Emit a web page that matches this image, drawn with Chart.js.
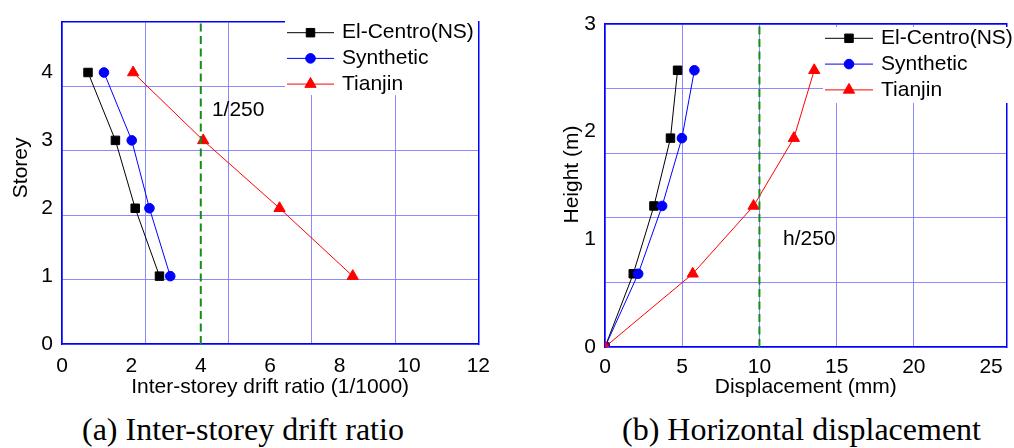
<!DOCTYPE html>
<html>
<head>
<meta charset="utf-8">
<script src="https://cdn.jsdelivr.net/npm/chart.js@4/dist/chart.umd.min.js"></script>
<style>
  body { margin: 0; background: #fff; }
  #wrap { position: relative; width: 1014px; height: 448px; overflow: hidden; }
  canvas { position: absolute; top: 0; }
  #driftChart { left: 0; }
  #dispChart { left: 500px; }
  .caption { position: absolute; top: 411px; font: 32px "Liberation Serif", "Times New Roman", serif; line-height: 36px; color: #000; white-space: nowrap; }
</style>
</head>
<body>
<div id="wrap">
  <canvas id="driftChart" width="500" height="400"></canvas>
  <canvas id="dispChart" width="514" height="400"></canvas>
  <div class="caption" style="left:82px">(a) Inter-storey drift ratio</div>
  <div class="caption" style="left:622px">(b) Horizontal displacement</div>
</div>
<script>
// (a) inter-storey drift ratio, 1/1000
const storeys = [1, 2, 3, 4];
const elCentroDrift = [2.81, 2.11, 1.54, 0.75];
const syntheticDrift = [3.12, 2.52, 2.01, 1.21];
const tianjinDrift = [8.38, 6.27, 4.07, 2.05];
const driftLimit = 4;

// (b) horizontal displacement, mm
const heights = [0, 0.68, 1.31, 1.94, 2.57];
const elCentroDisp = [0, 1.83, 3.17, 4.24, 4.70];
const syntheticDisp = [0, 2.15, 3.70, 4.98, 5.79];
const tianjinDisp = [0, 5.68, 9.62, 12.23, 13.55];
const dispLimit = 10;

const FONT = '"Liberation Sans", Arial, sans-serif';
const BLUE = "#0000ff";
const GRID = "rgba(110,110,255,0.8)";

function xy(xs, ys) {
    return xs.map((x, i) => ({ x: x, y: ys[i] }));
}

function series(label, color, style, radius, xs, ys, order) {
    return {
        label: label,
        data: xy(xs, ys),
        showLine: true,
        borderColor: color,
        backgroundColor: color,
        borderWidth: 1,
        pointStyle: style,
        pointRadius: radius,
        pointBorderWidth: 1,
        order: order
    };
}

function limitLine(x, yMax) {
    return {
        label: "limit",
        data: [{ x: x, y: 0 }, { x: x, y: yMax }],
        showLine: true,
        borderColor: "#178a17",
        borderWidth: 2,
        borderDash: [8, 4.5],
        pointRadius: 0,
        order: -1
    };
}

// legend drawn inside the plot, on a white box
const insideLegend = {
    id: "insideLegend",
    afterDatasetsDraw(chart, args, opts) {
        const ctx = chart.ctx;
        const items = chart.data.datasets.filter(d => d.pointStyle);
        ctx.save();
        ctx.fillStyle = "#fff";
        ctx.fillRect(opts.box[0], opts.box[1], opts.box[2] - opts.box[0], opts.box[3] - opts.box[1]);
        items.forEach((d, i) => {
            const y = opts.top + i * opts.rowGap;
            ctx.strokeStyle = d.borderColor;
            ctx.lineWidth = 1;
            ctx.beginPath();
            ctx.moveTo(opts.lineX, y);
            ctx.lineTo(opts.lineX + opts.lineLen, y);
            ctx.stroke();
            ctx.fillStyle = d.backgroundColor;
            Chart.helpers.drawPoint(ctx, { pointStyle: d.pointStyle, radius: d.pointRadius, borderWidth: 1, rotation: 0 },
                opts.lineX + opts.lineLen / 2, y);
            ctx.fillStyle = "#000";
            ctx.font = "21px " + FONT;
            ctx.textBaseline = "middle";
            ctx.textAlign = "left";
            ctx.fillText(d.label, opts.lineX + opts.lineLen + 8, y);
        });
        ctx.restore();
    }
};

// text beside the limit line, placed in data units
const limitText = {
    id: "limitText",
    afterDatasetsDraw(chart, args, opts) {
        const ctx = chart.ctx;
        ctx.save();
        ctx.fillStyle = "#000";
        ctx.font = "21px " + FONT;
        ctx.textBaseline = "middle";
        ctx.textAlign = "left";
        ctx.fillText(opts.text, chart.scales.x.getPixelForValue(opts.x), chart.scales.y.getPixelForValue(opts.y));
        ctx.restore();
    }
};

// y title sits a little above the middle of the plot in the original
const yTitle = {
    id: "yTitle",
    afterDraw(chart, args, opts) {
        const ctx = chart.ctx;
        const area = chart.chartArea;
        ctx.save();
        ctx.translate(opts.x, (area.top + area.bottom) / 2 + opts.dy);
        ctx.rotate(-Math.PI / 2);
        ctx.fillStyle = "#000";
        ctx.font = "21px " + FONT;
        ctx.textBaseline = "middle";
        ctx.textAlign = "center";
        ctx.fillText(opts.text, 0, 0);
        ctx.restore();
    }
};

function axes(o) {
    return {
        x: {
            type: "linear", position: "bottom", min: 0, max: o.xMax,
            ticks: { stepSize: o.xStep, includeBounds: false, color: "#000", font: { family: FONT, size: 21 }, padding: o.xPad, maxRotation: 0 },
            grid: { display: false, drawTicks: false },
            border: { display: true, color: BLUE, width: 1.5 },
            title: { display: true, text: o.xTitle, color: "#000", font: { family: FONT, size: 21 }, padding: { top: 1, bottom: 0 } },
            afterFit: s => { s.height = o.xHeight; }
        },
        y: {
            type: "linear", position: "left", min: 0, max: o.yMax,
            ticks: { stepSize: 1, includeBounds: false, color: "#000", font: { family: FONT, size: 21 }, padding: 9 },
            grid: { display: false, drawTicks: false },
            border: { display: true, color: BLUE, width: 1.5 },
            afterFit: s => { s.width = o.yWidth; }
        },
        // grid-only axes: the grid of the original figure is not on the tick values
        x2: {
            type: "linear", position: "top", min: 0, max: o.xMax,
            ticks: { display: false, stepSize: o.xGrid },
            grid: { color: GRID, lineWidth: 1, drawTicks: false },
            border: { display: true, color: BLUE, width: 1.5 },
            afterFit: s => { s.height = 0; }
        },
        y2: {
            type: "linear", position: "right", min: 0, max: o.yMax,
            ticks: { display: false, stepSize: o.yGrid },
            grid: { color: GRID, lineWidth: 1, drawTicks: false },
            border: { display: true, color: BLUE, width: 1.5 },
            afterFit: s => { s.width = 0; }
        }
    };
}

new Chart(document.getElementById("driftChart"), {
    type: "scatter",
    data: {
        datasets: [
            series("El-Centro(NS)", "#000000", "rect", 6, elCentroDrift, storeys, 2),
            series("Synthetic", BLUE, "circle", 4.8, syntheticDrift, storeys, 1),
            series("Tianjin", "#ff0000", "triangle", 6.5, tianjinDrift, storeys, 0),
            limitLine(driftLimit, 4.75)
        ]
    },
    options: {
        responsive: false, animation: false, events: [],
        layout: { padding: { left: 0, top: 13, right: 20, bottom: 0 } },
        scales: axes({ xMax: 12, xStep: 2, xGrid: 2.4, xPad: 10, xHeight: 56, xTitle: "Inter-storey drift ratio (1/1000)",
            yMax: 4.75, yGrid: 0.95, yWidth: 62 }),
        plugins: {
            legend: { display: false }, tooltip: { enabled: false },
            insideLegend: { box: [285, 17, 478, 95], lineX: 287, lineLen: 47, top: 32.7, rowGap: 25.7 },
            limitText: { text: "1/250", x: 4.32, y: 3.45 },
            yTitle: { text: "Storey", x: 21, dy: -15 }
        }
    },
    plugins: [insideLegend, limitText, yTitle]
});

new Chart(document.getElementById("dispChart"), {
    type: "scatter",
    data: {
        datasets: [
            series("El-Centro(NS)", "#000000", "rect", 6, elCentroDisp, heights, 2),
            series("Synthetic", BLUE, "circle", 4.8, syntheticDisp, heights, 1),
            series("Tianjin", "#ff0000", "triangle", 6.5, tianjinDisp, heights, 0),
            limitLine(dispLimit, 3)
        ]
    },
    options: {
        responsive: false, animation: false, events: [],
        layout: { padding: { left: 0, top: 24, right: 2, bottom: 0 } },
        scales: axes({ xMax: 26, xStep: 5, xGrid: 5, xPad: 8, xHeight: 53, xTitle: "Displacement (mm)",
            yMax: 3, yGrid: 0.6, yWidth: 105 }),
        plugins: {
            legend: { display: false }, tooltip: { enabled: false },
            insideLegend: { box: [323, 27, 511, 103], lineX: 325, lineLen: 48, top: 38.3, rowGap: 25.8 },
            limitText: { text: "h/250", x: 11.53, y: 1.0 },
            yTitle: { text: "Height (m)", x: 72, dy: -11 }
        }
    },
    plugins: [insideLegend, limitText, yTitle]
});
</script>
</body>
</html>
